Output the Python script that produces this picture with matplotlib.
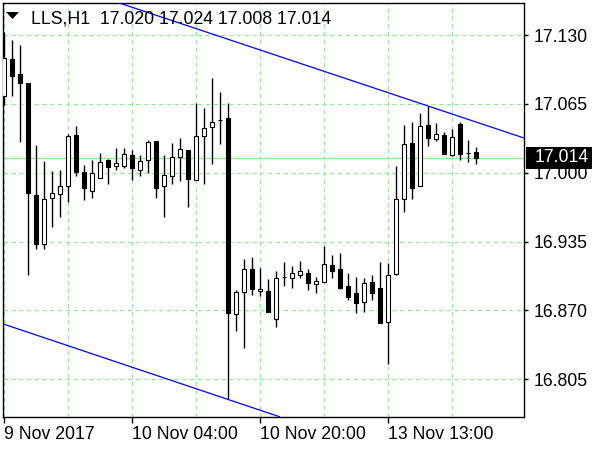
import numpy as np
import matplotlib
matplotlib.use('Agg')
import matplotlib.pyplot as plt
import matplotlib.transforms as mtransforms
from matplotlib.patches import Rectangle, Polygon

# LLS, H1 candles
opens = [17.072, 17.107, 17.093, 17.085, 16.979, 16.933, 16.976, 16.980, 16.987, 17.036,
         17.001, 16.983, 16.995, 17.012, 17.006, 17.006, 17.017, 17.003, 17.012, 17.030,
         16.987, 16.997, 17.015, 17.021, 16.993, 17.035, 17.043, 17.050, 17.052, 16.867,
         16.887, 16.909, 16.888, 16.888, 16.862, 16.902, 16.901, 16.903, 16.905, 16.895,
         16.897, 16.913, 16.909, 16.893, 16.886, 16.878, 16.897, 16.891, 16.859, 16.904,
         16.975, 17.028, 16.987, 17.045, 17.032, 17.036, 17.017, 17.046, 17.019, 17.020]
highs = [17.133, 17.125, 17.121, 17.085, 17.026, 17.011, 17.002, 17.003, 17.037, 17.044,
         17.007, 17.012, 17.019, 17.013, 17.023, 17.023, 17.021, 17.017, 17.031, 17.030,
         17.017, 17.028, 17.033, 17.021, 17.066, 17.061, 17.089, 17.076, 17.066, 16.889,
         16.919, 16.920, 16.910, 16.900, 16.907, 16.916, 16.912, 16.917, 16.909, 16.902,
         16.931, 16.922, 16.924, 16.905, 16.902, 16.901, 16.903, 16.916, 16.915, 17.006,
         17.045, 17.048, 17.056, 17.063, 17.047, 17.038, 17.041, 17.048, 17.031, 17.024]
lows = [17.064, 17.072, 17.029, 16.903, 16.928, 16.928, 16.949, 16.958, 16.972, 16.997,
        16.974, 16.976, 16.995, 16.989, 17.003, 17.004, 16.993, 16.997, 17.000, 16.976,
        16.958, 16.989, 16.992, 16.968, 16.993, 16.989, 17.008, 17.027, 16.786, 16.851,
        16.835, 16.885, 16.884, 16.869, 16.854, 16.893, 16.891, 16.901, 16.889, 16.886,
        16.897, 16.901, 16.890, 16.880, 16.868, 16.869, 16.880, 16.858, 16.819, 16.903,
        16.963, 16.975, 16.987, 17.025, 17.030, 17.018, 17.016, 17.012, 17.010, 17.008]
closes = [17.108, 17.091, 17.085, 16.981, 16.933, 16.975, 16.981, 16.987, 17.035, 17.001,
          16.986, 17.000, 17.010, 17.005, 17.009, 17.018, 17.004, 17.011, 17.029, 16.986,
          16.998, 17.015, 17.022, 16.994, 17.035, 17.042, 17.048, 17.050, 16.868, 16.887,
          16.909, 16.890, 16.890, 16.869, 16.901, 16.902, 16.905, 16.907, 16.896, 16.898,
          16.914, 16.907, 16.891, 16.883, 16.877, 16.896, 16.886, 16.858, 16.903, 16.975,
          17.027, 16.986, 17.044, 17.033, 17.037, 17.018, 17.034, 17.018, 17.019, 17.014]

yticks = [16.805, 16.870, 16.935, 17.000, 17.065, 17.130]
date_ticks = [0, 16, 32, 48]
date_labels = ['9 Nov 2017', '10 Nov 04:00', '10 Nov 20:00', '13 Nov 13:00']
bid = 17.014

# trend channel, two anchor points each (bar index, price)
upper_line = [(14.5, 17.160), (53, 17.063)]
lower_line = [(0, 16.857), (28, 16.786)]

green = '#90ee90'
fnt = 'Liberation Sans'
fs = 12.7

fig = plt.figure(figsize=(6, 4.5), dpi=100)
ax = fig.add_axes([2.7/600, 33.3/450, 521.3/600, 414/450])

x = np.arange(len(opens))
o = np.array(opens); c = np.array(closes)
ax.vlines(x, lows, highs, color='black', lw=1, zorder=3)
fill = np.where(c >= o, 'white', 'black')
ax.bar(x, np.abs(c - o), bottom=np.minimum(o, c), width=0.42, color=fill,
       edgecolor='black', linewidth=0.8, zorder=4)

ax.axline(upper_line[0], upper_line[1], color='#0000ff', lw=0.9, zorder=5)
ax.axline(lower_line[0], lower_line[1], color='#0000ff', lw=0.9, zorder=5)
ax.axhline(bid, color=green, lw=1, zorder=2)

ax.set_xlim(-0.16, 65.0)
ax.set_ylim(16.7697, 17.1605)

ax.set_xticks(date_ticks)
ax.set_xticklabels(date_labels, fontname=fnt, fontsize=fs)
for lab in ax.get_xticklabels():
    lab.set_horizontalalignment('left')
ax.set_xticks(np.arange(8, 65, 16), minor=True)
ax.set_yticks(yticks)
ax.set_yticklabels(['%.3f' % v for v in yticks], fontname=fnt, fontsize=fs)
ax.yaxis.tick_right()
ax.tick_params(axis='x', which='major', length=4, width=1, pad=3)
ax.tick_params(axis='x', which='minor', length=0)
ax.tick_params(axis='y', length=3, width=1, pad=4)
ax.grid(True, which='both', color=green, ls=(0, (4, 3)), lw=0.8, zorder=1)
ax.set_axisbelow(True)
for sp in ax.spines.values():
    sp.set_linewidth(1)

# bid price box on the price scale
trans = mtransforms.blended_transform_factory(fig.transFigure, ax.transData)
ax.add_patch(Rectangle((526/600, bid - 0.0107), 66/600, 0.0214, transform=trans,
                       fc='black', ec='none', clip_on=False, zorder=10))
ax.text(535/600, bid, '%.3f' % bid, transform=trans, color='white', fontname=fnt,
        fontsize=fs, ha='left', va='center', zorder=11, clip_on=False)

# header
fig.add_artist(Polygon([[6/600, 1-12/450], [19/600, 1-12/450], [12.5/600, 1-19/450]],
                       closed=True, fc='black', ec='none', transform=fig.transFigure))
fig.text(31/600, 1-24/450, 'LLS,H1  %.3f %.3f %.3f %.3f' % (opens[-1], highs[-1], lows[-1], closes[-1]),
         fontname=fnt, fontsize=fs, va='baseline', ha='left')

fig.savefig('out.png', dpi=100)
